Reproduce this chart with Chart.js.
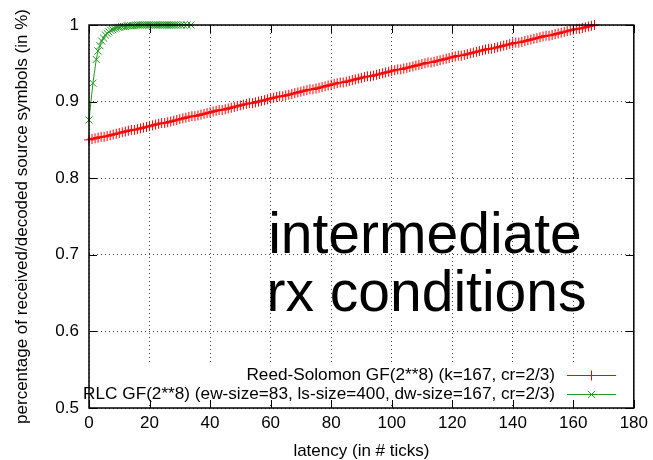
<!DOCTYPE html>
<html>
<head>
<meta charset="utf-8">
<script src="https://cdn.jsdelivr.net/npm/chart.js@4.4.1/dist/chart.umd.min.js"></script>
<style>
  html, body { margin: 0; padding: 0; background: #fff; }
  #wrap { width: 653px; height: 460px; }
</style>
</head>
<body>
<div id="wrap"><canvas id="grafik"></canvas></div>
<script>
// Data
const rsLabel = "Reed-Solomon GF(2**8) (k=167, cr=2/3)";
const rlcLabel = "RLC GF(2**8) (ew-size=83, ls-size=400, dw-size=167, cr=2/3)";

// Reed-Solomon: satu titik per tick, latency 0..167
const rsRatio = [
  .850, .851, .852, .853, .854, .854, .855, .856, .857, .858,
  .859, .860, .861, .862, .863, .863, .864, .865, .866, .867,
  .868, .869, .870, .871, .872, .872, .873, .874, .875, .876,
  .877, .878, .879, .880, .881, .881, .882, .883, .884, .885,
  .886, .887, .888, .889, .889, .890, .891, .892, .893, .894,
  .895, .896, .897, .898, .898, .899, .900, .901, .902, .903,
  .904, .905, .906, .907, .907, .908, .909, .910, .911, .912,
  .913, .914, .915, .916, .916, .917, .918, .919, .920, .921,
  .922, .923, .924, .925, .925, .926, .927, .928, .929, .930,
  .931, .932, .933, .933, .934, .935, .936, .937, .938, .939,
  .940, .941, .942, .942, .943, .944, .945, .946, .947, .948,
  .949, .950, .951, .951, .952, .953, .954, .955, .956, .957,
  .958, .959, .960, .960, .961, .962, .963, .964, .965, .966,
  .967, .968, .969, .969, .970, .971, .972, .973, .974, .975,
  .976, .977, .977, .978, .979, .980, .981, .982, .983, .984,
  .985, .986, .986, .987, .988, .989, .990, .991, .992, .993,
  .994, .995, .995, .996, .997, .998, .999, 1.000
];

// RLC: latency rata-rata (tidak bulat) dan rasio
const rlcLatency = [
  0, 1.3, 2.4, 3.0, 3.6, 4.2, 4.8, 5.4, 6.0, 6.6,
  7.2, 7.8, 8.4, 9.0, 9.6, 10.2, 10.8, 11.4, 12.0, 12.6,
  13.2, 13.8, 14.4, 15.0, 15.6, 16.2, 16.8, 17.4, 18.0, 18.6,
  19.2, 19.8, 20.4, 21.0, 21.6, 22.2, 22.8, 23.4, 24.0, 24.6,
  25.2, 25.8, 26.4, 27.0, 27.6, 28.2, 28.8, 29.6, 30.4, 31.3,
  32.4, 33.7
];
const rlcRatio = [
  .876, .924, .955, .966, .973, .979, .983, .987, .989, .991,
  .993, .994, .995, .996, .997, .997, .998, .998, .998, .999,
  .999, .999, .999, .999, 1.000, 1.000, 1.000, 1.000, 1.000, 1.000,
  1.000, 1.000, 1.000, 1.000, 1.000, 1.000, 1.000, 1.000, 1.000, 1.000,
  1.000, 1.000, 1.000, 1.000, 1.000, 1.000, 1.000, 1.000, 1.000, 1.000,
  1.000, 1.000
];

const xTickValues = [0, 20, 40, 60, 80, 100, 120, 140, 160, 180];
const xTickLabels = ["0", "20", "40", "60", "80", "100", "120", "140", "160", "180"];
const yTickValues = [0.5, 0.6, 0.7, 0.8, 0.9, 1];
const yTickLabels = ["0.5", "0.6", "0.7", "0.8", "0.9", "1"];

const merah = "#ff0000";
const hijau = "#229a22";
const FONT = "'Liberation Sans', Arial, Helvetica, sans-serif";

const rsPoints = rsRatio.map((v, i) => ({ x: i, y: v }));
const rlcPoints = rlcLatency.map((v, i) => ({ x: v, y: rlcRatio[i] }));

// Teks besar di tengah plot
const teksBesar = {
  id: "teksBesar",
  afterDatasetsDraw(chart) {
    const { ctx, scales: { x, y } } = chart;
    ctx.save();
    ctx.fillStyle = "#000";
    ctx.font = "57px " + FONT;
    ctx.textAlign = "center";
    ctx.textBaseline = "alphabetic";
    ctx.fillText("intermediate", x.getPixelForValue(111), y.getPixelForValue(0.702));
    ctx.fillText("rx conditions", x.getPixelForValue(111.5), y.getPixelForValue(0.626));
    ctx.restore();
  }
};

// Legenda gaya gnuplot (teks rata kanan, contoh garis di kanan)
const legendaKanan = {
  id: "legendaKanan",
  afterDatasetsDraw(chart) {
    const { ctx, chartArea: a } = chart;
    const items = [
      { text: rsLabel, color: merah, style: "cross", r: 5, y: 375 },
      { text: rlcLabel, color: hijau, style: "crossRot", r: 5, y: 394 }
    ];
    ctx.save();
    ctx.fillStyle = "#fff";
    ctx.fillRect(a.left + 1, 364, a.width - 20, 40);
    ctx.font = "17.2px " + FONT;
    ctx.textAlign = "right";
    ctx.textBaseline = "middle";
    items.forEach(it => {
      ctx.fillStyle = "#000";
      ctx.fillText(it.text, 555, it.y);
      ctx.strokeStyle = it.color;
      ctx.lineWidth = 1;
      ctx.beginPath();
      ctx.moveTo(567, it.y + 0.5);
      ctx.lineTo(616, it.y + 0.5);
      ctx.stroke();
      Chart.helpers.drawPoint(ctx, { pointStyle: it.style, radius: it.r, borderWidth: 1 }, 591.5, it.y + 0.5);
    });
    ctx.restore();
  }
};

// Bingkai dan tick ke dalam
const bingkai = {
  id: "bingkai",
  afterDraw(chart) {
    const { ctx, chartArea: a, scales: { x, y } } = chart;
    ctx.save();
    ctx.strokeStyle = "#000";
    ctx.lineWidth = 1.5;
    ctx.strokeRect(a.left, a.top, a.right - a.left, a.bottom - a.top);
    ctx.lineWidth = 1;
    ctx.beginPath();
    xTickValues.forEach(v => {
      const px = Math.round(x.getPixelForValue(v)) + 0.5;
      ctx.moveTo(px, a.bottom); ctx.lineTo(px, a.bottom - 8);
      ctx.moveTo(px, a.top); ctx.lineTo(px, a.top + 8);
    });
    yTickValues.forEach(v => {
      const py = Math.round(y.getPixelForValue(v)) + 0.5;
      ctx.moveTo(a.left, py); ctx.lineTo(a.left + 8, py);
      ctx.moveTo(a.right, py); ctx.lineTo(a.right - 8, py);
    });
    ctx.stroke();
    ctx.restore();
  }
};

const ctx = document.getElementById("grafik").getContext("2d");
new Chart(ctx, {
  type: "scatter",
  data: {
    datasets: [
      {
        label: rsLabel,
        data: rsPoints,
        showLine: true,
        borderColor: merah,
        backgroundColor: merah,
        borderWidth: 1,
        pointStyle: "cross",
        pointRadius: 5,
        pointBorderWidth: 1,
        pointHoverRadius: 5,
        clip: false,
        order: 2
      },
      {
        label: rlcLabel,
        data: rlcPoints,
        showLine: true,
        borderColor: hijau,
        backgroundColor: hijau,
        borderWidth: 1,
        pointStyle: "crossRot",
        pointRadius: 5,
        pointBorderWidth: 1,
        pointHoverRadius: 5,
        clip: false,
        order: 1
      }
    ]
  },
  options: {
    responsive: true,
    maintainAspectRatio: false,
    animation: false,
    events: [],
    layout: { padding: { left: 0, right: 16, top: 25, bottom: 0 } },
    plugins: {
      legend: { display: false },
      tooltip: { enabled: false }
    },
    scales: {
      x: {
        type: "linear",
        min: 0,
        max: 180,
        afterBuildTicks: s => { s.ticks = xTickValues.map(v => ({ value: v })); },
        afterFit: s => { s.height = 52; },
        ticks: {
          color: "#000",
          font: { family: FONT, size: 17 },
          padding: 5,
          maxRotation: 0,
          callback: (v, i) => xTickLabels[i]
        },
        grid: { color: "#444", lineWidth: 1, drawTicks: false },
        border: { display: false, dash: [1, 3] },
        title: {
          display: true,
          text: "latency (in # ticks)",
          color: "#000",
          font: { family: FONT, size: 17, lineHeight: 1 },
          padding: { top: 0, bottom: 0 }
        }
      },
      y: {
        type: "linear",
        min: 0.5,
        max: 1,
        afterBuildTicks: s => { s.ticks = yTickValues.map(v => ({ value: v })); },
        afterFit: s => { s.width = 89; },
        ticks: {
          color: "#000",
          font: { family: FONT, size: 17 },
          padding: 10,
          callback: (v, i) => yTickLabels[i]
        },
        grid: { color: "#444", lineWidth: 1, drawTicks: false },
        border: { display: false, dash: [1, 3] },
        title: {
          display: true,
          text: "percentage of received/decoded source symbols (in %)",
          color: "#000",
          font: { family: FONT, size: 17 },
          padding: { top: 12, bottom: 0 }
        }
      }
    }
  },
  plugins: [teksBesar, legendaKanan, bingkai]
});
</script>
</body>
</html>
